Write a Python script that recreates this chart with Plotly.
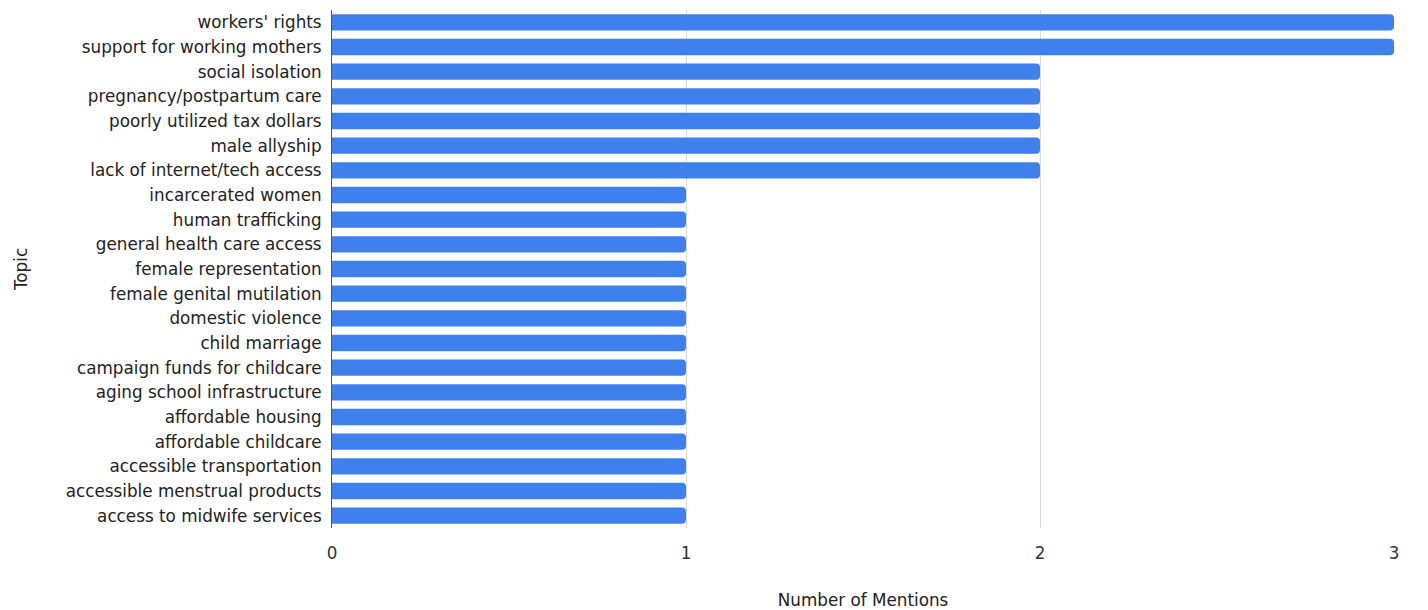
import plotly.graph_objects as go

topics = [
    "workers' rights",
    "support for working mothers",
    "social isolation",
    "pregnancy/postpartum care",
    "poorly utilized tax dollars",
    "male allyship",
    "lack of internet/tech access",
    "incarcerated women",
    "human trafficking",
    "general health care access",
    "female representation",
    "female genital mutilation",
    "domestic violence",
    "child marriage",
    "campaign funds for childcare",
    "aging school infrastructure",
    "affordable housing",
    "affordable childcare",
    "accessible transportation",
    "accessible menstrual products",
    "access to midwife services",
]
mentions = [3, 3, 2, 2, 2, 2, 2, 1, 1, 1, 1, 1, 1, 1, 1, 1, 1, 1, 1, 1, 1]
x_ticks = [0, 1, 2, 3]

FONT = "DejaVu Sans, Verdana, sans-serif"
FS = 16.8

fig = go.Figure(
    go.Bar(
        y=topics,
        x=mentions,
        orientation="h",
        width=0.66,
        marker=dict(color="#3F80EC", cornerradius=4, line=dict(width=0)),
        hoverinfo="x+y",
    )
)

fig.update_layout(
    width=1420,
    height=602,
    margin=dict(l=324, r=34, t=2, b=82),
    paper_bgcolor="white",
    plot_bgcolor="white",
    showlegend=False,
    font=dict(family=FONT, size=FS, color="#222222"),
)

fig.update_xaxes(
    range=[0, 3],
    tickvals=x_ticks,
    showgrid=True,
    gridcolor="#d9d9d9",
    gridwidth=1,
    zeroline=False,
    showline=False,
    ticks="",
    ticklabelstandoff=13,
    tickfont=dict(size=FS, color="#333333"),
    title=dict(text="Number of Mentions", font=dict(size=FS, color="#222222"), standoff=32),
    automargin=False,
    fixedrange=True,
)

fig.update_yaxes(
    categoryorder="array",
    categoryarray=topics,
    autorange="reversed",
    showgrid=False,
    showline=True,
    linecolor="#555555",
    linewidth=1,
    ticks="",
    ticklabelstandoff=6,
    tickfont=dict(size=FS, color="#222222"),
    title=dict(text="Topic", font=dict(size=FS, color="#222222"), standoff=33),
    automargin=False,
    fixedrange=True,
)

fig.write_html("out.html")
